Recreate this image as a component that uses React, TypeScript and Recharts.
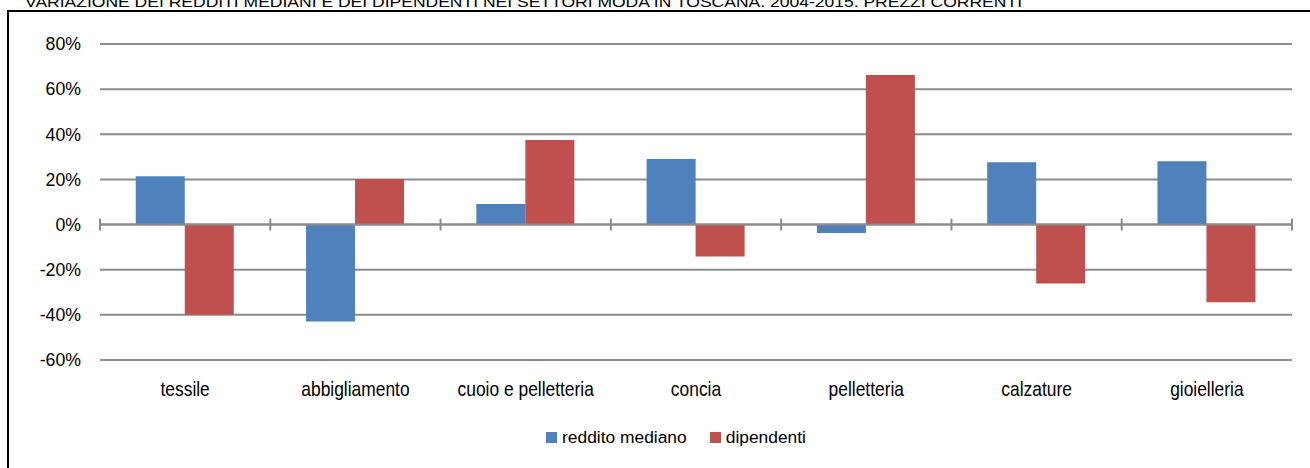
import React from 'react';
import { BarChart, Bar, XAxis, YAxis, CartesianGrid, ReferenceLine, Legend } from 'recharts';

const categories = ['tessile', 'abbigliamento', 'cuoio e pelletteria', 'concia', 'pelletteria', 'calzature', 'gioielleria'];
const redditoMediano = [21.4, -42.9, 9.1, 29.1, -3.7, 27.6, 28.1];
const dipendenti = [-40.0, 20.2, 37.5, -14.1, 66.3, -26.1, -34.4];
const yTicks = [-60, -40, -20, 0, 20, 40, 60, 80];
const seriesNames = ['reddito mediano', 'dipendenti'];
const seriesColors = ['#4F81BD', '#C0504D'];
const title = 'VARIAZIONE DEI REDDITI MEDIANI E DEI DIPENDENTI NEI SETTORI MODA IN TOSCANA. 2004-2015. PREZZI CORRENTI';

const data = categories.map((c, i) => ({ name: c, reddito: redditoMediano[i], dipendenti: dipendenti[i] }));

const FONT = '"Liberation Sans", Arial, sans-serif';
const GRID = '#8c8c8c';

const ZeroAxis = (props: any) => {
  const { x1, y1, x2, y2 } = props;
  const n = categories.length;
  const step = (x2 - x1) / n;
  const ticks = [];
  for (let i = 0; i <= n; i++) {
    const x = x1 + step * i;
    ticks.push(<line key={i} x1={x} x2={x} y1={y1 - 6} y2={y1 + 6} stroke={GRID} strokeWidth={2} />);
  }
  return (
    <g>
      <line x1={x1} y1={y1} x2={x2} y2={y2} stroke={GRID} strokeWidth={2} />
      {ticks}
    </g>
  );
};

const CategoryTick = (props: any) => {
  const { x, y, payload } = props;
  return (
    <g transform={`translate(${x},${y}) scale(1,1.18)`}>
      <text x={0} y={0} dy="0.71em" textAnchor="middle" fontFamily={FONT} fontSize={17.4} fill="#000">
        {payload.value}
      </text>
    </g>
  );
};

const LegendContent = () => (
  <div style={{ display: 'flex', alignItems: 'center', fontFamily: FONT, fontSize: 17.4, color: '#000' }}>
    {seriesNames.map((s, i) => (
      <div key={s} style={{ display: 'flex', alignItems: 'center', marginRight: i === 0 ? 23 : 0 }}>
        <div style={{ width: 11, height: 11, background: seriesColors[i], marginRight: 5 }} />
        <span>{s}</span>
      </div>
    ))}
  </div>
);

export default function App() {
  return (
    <div style={{ position: 'absolute', left: 0, top: 0, width: 1310, height: 468, overflow: 'hidden', background: '#fff' }}>
      <svg style={{ position: 'absolute', left: 0, top: 0 }} width={1310} height={12}>
        <text x={25} y={7} fontFamily={FONT} fontSize={15} fill="#000" textLength={997} lengthAdjust="spacingAndGlyphs">
          {title}
        </text>
      </svg>
      <div style={{ position: 'absolute', left: 7, top: 10, width: 1301, height: 460, borderLeft: '2px solid #000', borderTop: '2px solid #000' }} />
      <div style={{ position: 'absolute', left: 0, top: 0 }}>
        <BarChart
          width={1310}
          height={468}
          data={data}
          margin={{ top: 44, right: 18, bottom: 48, left: 0 }}
          barCategoryGap="21%"
          barGap={0}
        >
          <CartesianGrid horizontal vertical={false} stroke={GRID} strokeWidth={2} />
          <XAxis
            dataKey="name"
            axisLine={false}
            tickLine={false}
            tickSize={0}
            tickMargin={21}
            height={40}
            interval={0}
            tick={CategoryTick}
          />
          <YAxis
            domain={[-60, 80]}
            ticks={yTicks}
            width={100}
            axisLine={false}
            tickLine={false}
            tickSize={0}
            tickMargin={19}
            tickFormatter={(v: number) => `${v}%`}
            tick={{ fontFamily: FONT, fontSize: 17.7, fill: '#000' }}
            allowDataOverflow
          />
          <Bar dataKey="reddito" name={seriesNames[0]} fill={seriesColors[0]} isAnimationActive={false} />
          <Bar dataKey="dipendenti" name={seriesNames[1]} fill={seriesColors[1]} isAnimationActive={false} />
          <ReferenceLine y={0} shape={ZeroAxis} />
          <Legend
            content={LegendContent}
            wrapperStyle={{ position: 'absolute', left: 546, top: 427, width: 'auto', height: 20 }}
          />
        </BarChart>
      </div>
    </div>
  );
}
